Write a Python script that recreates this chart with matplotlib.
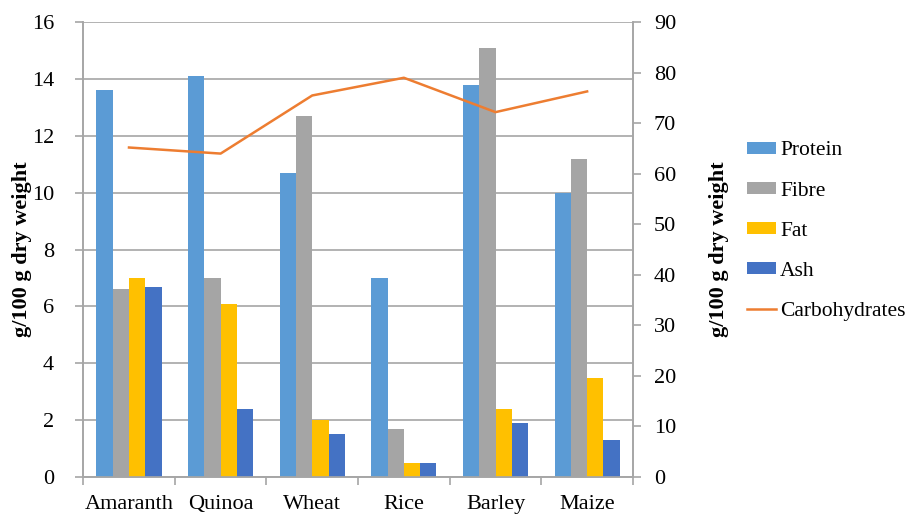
import numpy as np
import matplotlib.pyplot as plt

plt.rcParams['font.family'] = ['Liberation Serif', 'DejaVu Serif']

# Nutrient composition of pseudocereals and cereals
grains = ["Amaranth", "Quinoa", "Wheat", "Rice", "Barley", "Maize"]
protein = [13.6, 14.1, 10.7, 7.0, 13.8, 10.0]
fibre = [6.6, 7.0, 12.7, 1.7, 15.1, 11.2]
fat = [7.0, 6.1, 2.0, 0.5, 2.4, 3.5]
ash = [6.7, 2.4, 1.5, 0.5, 1.9, 1.3]
carbohydrates = [65.2, 64.0, 75.5, 79.0, 72.2, 76.3]

bar_series = [("Protein", protein, "#5B9BD5"),
              ("Fibre", fibre, "#A5A5A5"),
              ("Fat", fat, "#FFC000"),
              ("Ash", ash, "#4472C4")]

fs = 16
fig = plt.figure(figsize=(9.14, 5.16), dpi=100)
ax = fig.add_axes([0.091, 0.0756, 0.6015, 0.8814])
ax2 = ax.twinx()

x = np.arange(len(grains))
width = 0.178
handles = []
for i, (name, vals, color) in enumerate(bar_series):
    offset = (i - 1.5) * width
    b = ax.bar(x + offset, vals, width, color=color, label=name, zorder=3)
    handles.append(b)

line, = ax2.plot(x, carbohydrates, color="#ED7D31", lw=1.8,
                 label="Carbohydrates", zorder=4)
handles.append(line)

grid_col = "#A6A6A6"

# left axis
ax.set_ylim(0, 16)
ax.set_yticks(np.arange(0, 17, 2))
ax.set_xlim(-0.5, len(grains) - 0.5)
ax.yaxis.grid(True, color=grid_col, lw=1.2, zorder=0)
ax.set_axisbelow(True)

# category boundaries carry the tick marks, names sit in between
ax.set_xticks(np.arange(-0.5, len(grains), 1.0))
ax.set_xticklabels([])
ax.set_xticks(x, minor=True)
ax.set_xticklabels(grains, minor=True, fontsize=fs)
ax.tick_params(axis="x", which="major", length=6, color=grid_col, width=1.2)
ax.tick_params(axis="x", which="minor", length=0, pad=13)
ax.tick_params(axis="y", length=6, color=grid_col, width=1.2,
               labelsize=fs, pad=15)

# right axis
ax2.set_ylim(0, 90)
ax2.set_yticks(np.arange(0, 91, 10))
ax2.tick_params(axis="y", length=6, color=grid_col, width=1.2,
                labelsize=fs, pad=9)

for a in (ax, ax2):
    a.spines["top"].set_visible(False)
    for s in ("left", "right", "bottom"):
        a.spines[s].set_color(grid_col)
        a.spines[s].set_linewidth(1.2)

ax.set_ylabel("g/100 g dry weight", fontsize=fs, fontweight="bold", labelpad=0)
ax2.set_ylabel("g/100 g dry weight", fontsize=fs, fontweight="bold", labelpad=24)

fig.legend(handles=handles, loc="center left", bbox_to_anchor=(0.808, 0.552),
           frameon=False, fontsize=15.5, handlelength=1.35, handleheight=0.45,
           labelspacing=0.98, handletextpad=0.18, borderaxespad=0)

fig.savefig("out.png", dpi=100)
